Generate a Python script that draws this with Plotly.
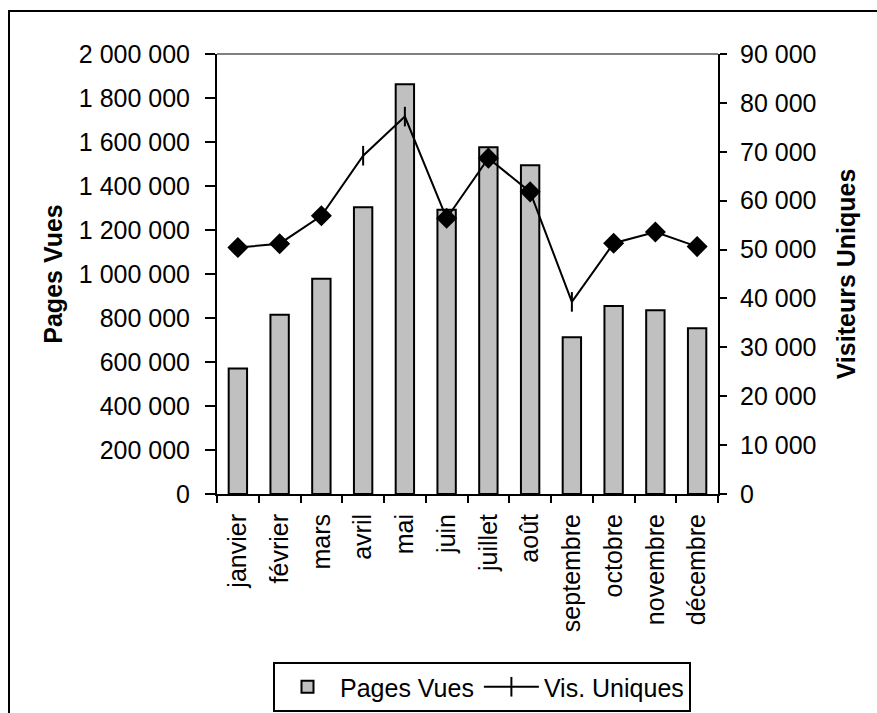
import plotly.graph_objects as go

months = ["janvier", "février", "mars", "avril", "mai", "juin", "juillet",
          "août", "septembre", "octobre", "novembre", "décembre"]
pages_vues = [571000, 815000, 978000, 1303000, 1862000, 1292000, 1576000,
              1494000, 712000, 855000, 835000, 753000]
vis_uniques = [50400, 51200, 56900, 69200, 77200, 56400, 68700,
               61800, 39300, 51300, 53600, 50600]

left_ticks = list(range(0, 2000001, 200000))
right_ticks = list(range(0, 90001, 10000))

FONT = "Liberation Sans, Arial, sans-serif"
FS = 25

marker_symbols = ["line-ns" if m in ("avril", "mai", "septembre") else "diamond" for m in months]

fig = go.Figure()
fig.add_trace(go.Bar(
    x=months, y=pages_vues, name="Pages Vues",
    marker=dict(color="#C0C0C0", line=dict(color="black", width=2)),
    yaxis="y", showlegend=True,
))
fig.add_trace(go.Scatter(
    x=months, y=vis_uniques, name="Vis. Uniques", yaxis="y2",
    mode="lines+markers",
    line=dict(color="black", width=2),
    marker=dict(symbol=marker_symbols, size=14, color="black",
                line=dict(color="black", width=2)),
    showlegend=False,
))
# legend proxy (no points)
fig.add_trace(go.Scatter(
    x=[None], y=[None], name="Vis. Uniques", yaxis="y2",
    mode="lines+markers",
    line=dict(color="black", width=2),
    marker=dict(symbol="line-ns", size=14, color="black",
                line=dict(color="black", width=2)),
    showlegend=True,
))

W, H = 877, 713
L, R, T, B = 217, 718, 54, 494
pw, ph = R - L, B - T

def px_x(p):
    return (p - L) / pw

def px_y(p):
    return (B - p) / ph

fig.update_layout(
    width=W, height=H,
    margin=dict(l=L, r=W - R, t=T, b=H - B, pad=0, autoexpand=False),
    paper_bgcolor="white", plot_bgcolor="white",
    font=dict(family=FONT, size=FS, color="black"),
    separators=", ",
    bargap=0.56,
    xaxis=dict(
        type="category", range=[-0.5, 11.5],
        tickson="boundaries", ticks="outside", ticklen=7, tickwidth=2,
        tickcolor="black", showline=True, linecolor="black", linewidth=2,
        tickangle=-90, showgrid=False, ticklabelstandoff=8,
        tickfont=dict(size=FS),
    ),
    xaxis2=dict(
        overlaying="x", anchor="y", range=[-0.5, 11.5],
        tickvals=[i - 0.5 for i in range(13)], ticks="inside", ticklen=8,
        tickwidth=2, tickcolor="black", showticklabels=False,
        showline=False, showgrid=False, zeroline=False,
    ),
    yaxis=dict(
        range=[0, 2000000], tickvals=left_ticks, tickformat=",d",
        ticks="outside", ticklen=10, tickwidth=2, tickcolor="black",
        showline=True, linecolor="black", linewidth=2,
        showgrid=False, zeroline=False, ticklabelstandoff=10,
        title=dict(text="<b>Pages Vues</b>", font=dict(size=FS), standoff=9),
    ),
    yaxis2=dict(
        range=[0, 90000], tickvals=right_ticks, tickformat=",d",
        overlaying="y", side="right", anchor="x",
        ticks="outside", ticklen=7, tickwidth=2, tickcolor="black",
        showline=True, linecolor="black", linewidth=2,
        showgrid=False, zeroline=False, ticklabelstandoff=8,
        title=dict(text="<b>Visiteurs Uniques</b>", font=dict(size=FS), standoff=22),
    ),
    yaxis3=dict(
        range=[0, 2000000], tickvals=left_ticks, overlaying="y", side="left",
        anchor="x", ticks="inside", ticklen=8, tickwidth=2, tickcolor="black",
        showticklabels=False, showline=False, showgrid=False, zeroline=False,
    ),
    yaxis4=dict(
        range=[0, 90000], tickvals=right_ticks, overlaying="y", side="right",
        anchor="x", ticks="inside", ticklen=8, tickwidth=2, tickcolor="black",
        showticklabels=False, showline=False, showgrid=False, zeroline=False,
    ),
    legend=dict(
        orientation="h", x=px_x(482), y=px_y(687),
        xanchor="center", yanchor="middle",
        bordercolor="black", borderwidth=2, bgcolor="white",
        font=dict(size=FS), itemwidth=55, tracegroupgap=0,
    ),
    shapes=[
        dict(type="line", xref="paper", yref="paper", x0=0, x1=1, y0=1, y1=1,
             line=dict(color="#808080", width=2), layer="below"),
        dict(type="rect", xref="paper", yref="paper",
             x0=px_x(9), x1=px_x(W + 50), y0=px_y(H + 50), y1=px_y(11),
             line=dict(color="black", width=2), fillcolor="rgba(0,0,0,0)",
             layer="above"),
    ],
)

fig.write_html("out.html", config={"displayModeBar": False},
               post_script="document.body.style.margin='0';document.body.style.overflow='hidden';")
